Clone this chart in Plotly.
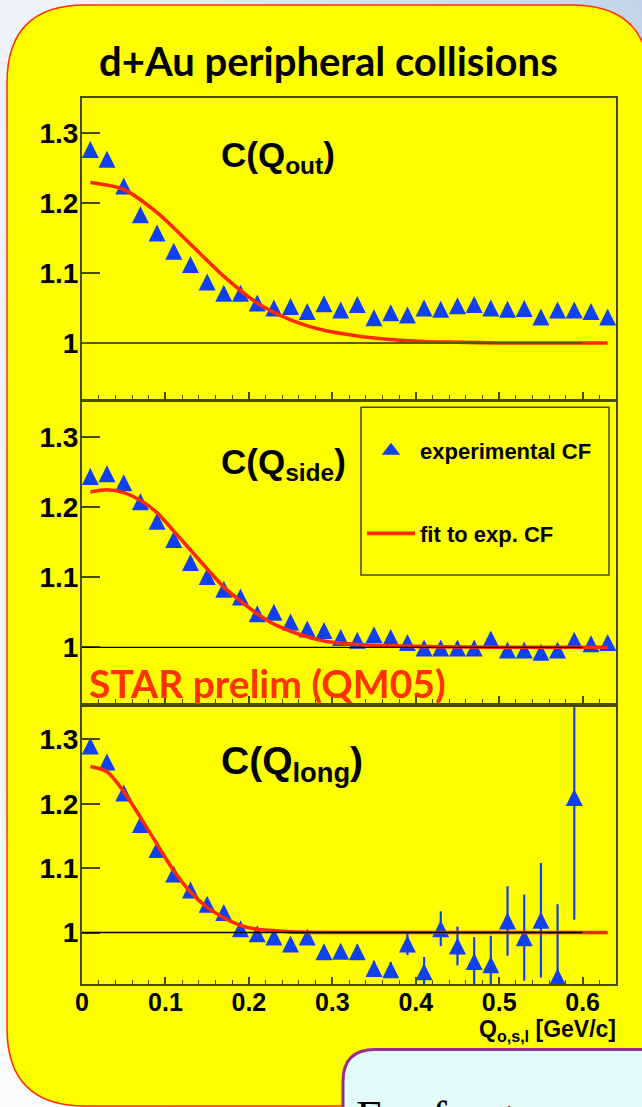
import base64
import plotly.graph_objects as go

W, H = 642, 1107

# ---- data ---------------------------------------------------------------
q_bins = [0.01, 0.03, 0.05, 0.07, 0.09, 0.11, 0.13, 0.15, 0.17, 0.19, 0.21,
          0.23, 0.25, 0.27, 0.29, 0.31, 0.33, 0.35, 0.37, 0.39, 0.41, 0.43,
          0.45, 0.47, 0.49, 0.51, 0.53, 0.55, 0.57, 0.59, 0.61, 0.63]

c_out = [1.276, 1.262, 1.224, 1.183, 1.157, 1.131, 1.112, 1.087, 1.071, 1.071,
         1.057, 1.050, 1.052, 1.045, 1.056, 1.047, 1.055, 1.036, 1.043, 1.040,
         1.050, 1.048, 1.053, 1.055, 1.050, 1.048, 1.049, 1.037, 1.047, 1.047,
         1.045, 1.037]

c_side = [1.244, 1.248, 1.235, 1.208, 1.180, 1.154, 1.121, 1.101, 1.083, 1.072,
          1.048, 1.050, 1.036, 1.026, 1.024, 1.014, 1.010, 1.018, 1.014, 1.007,
          0.999, 0.999, 0.999, 0.999, 1.012, 0.996, 0.996, 0.993, 0.996, 1.010,
          1.005, 1.007]

q_long = q_bins[:30]
c_long = [1.290, 1.265, 1.217, 1.168, 1.129, 1.091, 1.066, 1.044, 1.031, 1.006,
          0.998, 0.993, 0.982, 0.993, 0.970, 0.971, 0.970, 0.944, 0.942, 0.982,
          0.939, 1.006, 0.979, 0.955, 0.950, 1.018, 0.992, 1.019, 0.931, 1.210]
c_long_err = [0.004, 0.004, 0.004, 0.005, 0.005, 0.005, 0.006, 0.006, 0.007,
              0.007, 0.008, 0.008, 0.009, 0.009, 0.010, 0.010, 0.011, 0.012,
              0.012, 0.017, 0.023, 0.027, 0.030, 0.038, 0.045, 0.054, 0.067,
              0.089, 0.113, 0.190]

# fitted correlation functions
fit_out_q = [0.01, 0.05, 0.09, 0.13, 0.17, 0.21, 0.25, 0.29, 0.33, 0.37, 0.41,
             0.45, 0.50, 0.55, 0.60, 0.63]
fit_out = [1.229, 1.219, 1.186, 1.141, 1.095, 1.057, 1.033, 1.018, 1.010,
           1.005, 1.002, 1.001, 1.000, 1.000, 1.000, 1.000]

fit_side_q = [0.01, 0.03, 0.05, 0.07, 0.09, 0.11, 0.13, 0.15, 0.17, 0.19, 0.21,
              0.23, 0.25, 0.27, 0.29, 0.31, 0.33, 0.37, 0.41, 0.50, 0.63]
fit_side = [1.222, 1.225, 1.221, 1.210, 1.192, 1.166, 1.139, 1.112, 1.086,
            1.066, 1.048, 1.033, 1.023, 1.015, 1.009, 1.006, 1.004, 1.002,
            1.001, 1.000, 1.000]

fit_long_q = [0.01, 0.03, 0.05, 0.07, 0.09, 0.11, 0.13, 0.15, 0.17, 0.19, 0.21,
              0.23, 0.25, 0.30, 0.40, 0.50, 0.63]
fit_long = [1.258, 1.250, 1.219, 1.179, 1.137, 1.096, 1.063, 1.039, 1.023,
            1.011, 1.005, 1.003, 1.001, 1.000, 1.000, 1.000, 1.000]

x_tick_vals = [0, 0.1, 0.2, 0.3, 0.4, 0.5, 0.6]
x_tick_text = ["0", "0.1", "0.2", "0.3", "0.4", "0.5", "0.6"]
y_tick_vals = [1.0, 1.1, 1.2, 1.3]
y_tick_text = ["1", "1.1", "1.2", "1.3"]

X_RANGE = [0, 0.64]
Y_RANGE = [0.92, 1.35]
REF_LEVEL = 1.0
REF_XMAX = 0.6

# ---- styling ------------------------------------------------------------
HELV = "Liberation Sans"
SANS = "Lato"
BLUE = "#1040f2"
RED = "#ff2a00"
FRAME = "#4a4a00"
YELLOW = "#ffff00"
MARKER_SIZE = 17


def px_x(p):
    return p / W


def px_y(p):
    return 1 - p / H


X_DOMAIN = [px_x(82), px_x(616)]
PANELS = [(97.7, 399.0), (402.3, 703.3), (707.3, 984.0)]

fig = go.Figure()

series = [
    (q_bins, c_out, None, fit_out_q, fit_out),
    (q_bins, c_side, None, fit_side_q, fit_side),
    (q_long, c_long, c_long_err, fit_long_q, fit_long),
]

# upward triangle as tall as it is wide, centred on each point
tri_marker = dict(symbol="arrow-down", angle=180, standoff=MARKER_SIZE / 2,
                  size=MARKER_SIZE, color=BLUE, line=dict(width=0))

for i, (qx, cy, err, fq, fy) in enumerate(series):
    sfx = "" if i == 0 else str(i + 1)
    fig.add_trace(go.Scatter(
        x=qx, y=cy, mode="markers", name="experimental CF",
        xaxis="x" + sfx, yaxis="y" + sfx,
        marker=tri_marker,
        error_y=(dict(type="data", array=err, visible=True, color=BLUE,
                      thickness=2.2, width=0) if err else None),
        showlegend=False, legendgroup="exp",
    ))
    fig.add_trace(go.Scatter(
        x=fq, y=fy, mode="lines", name="fit to exp. CF",
        xaxis="x" + sfx, yaxis="y" + sfx,
        line=dict(color=RED, width=3.6, shape="spline", smoothing=0.8),
        showlegend=(i == 1), legendgroup="fit", legendrank=2,
    ))

# legend key for the measured points
fig.add_trace(go.Scatter(
    x=[None], y=[None], mode="markers", name="experimental CF",
    xaxis="x2", yaxis="y2",
    marker=dict(symbol="triangle-up", size=16, color=BLUE, line=dict(width=0)),
    showlegend=True, legendgroup="exp", legendrank=1,
))

layout = dict(
    width=W, height=H,
    margin=dict(l=0, r=0, t=0, b=0, autoexpand=False),
    paper_bgcolor="#f4f6f9",
    plot_bgcolor="rgba(0,0,0,0)",
    showlegend=True,
    legend=dict(x=px_x(362), y=px_y(430), xanchor="left", yanchor="top",
                bgcolor="rgba(0,0,0,0)", borderwidth=0,
                font=dict(family=HELV, size=22, color="black", weight="bold"),
                itemwidth=48, tracegroupgap=51, traceorder="grouped"),
)

for i, (top, bot) in enumerate(PANELS):
    sfx = "" if i == 0 else str(i + 1)
    last = (i == 2)
    layout["xaxis" + sfx] = dict(
        domain=X_DOMAIN, anchor="y" + sfx, range=X_RANGE, automargin=False,
        showline=True, linecolor=FRAME, linewidth=2, mirror=True,
        showgrid=False, zeroline=False,
        tickmode="array", tickvals=x_tick_vals, ticktext=x_tick_text,
        ticks="inside", ticklen=7, tickwidth=1.5, tickcolor=FRAME,
        minor=dict(ticks="inside", ticklen=4, tickwidth=1.2, tickcolor=FRAME,
                   dtick=0.02, tick0=0, showgrid=False),
        showticklabels=last, ticklabelstandoff=-5,
        tickfont=dict(family=HELV, size=25, color="black", weight="bold"),
    )
    layout["yaxis" + sfx] = dict(
        domain=[px_y(bot), px_y(top)], anchor="x" + sfx, range=Y_RANGE,
        automargin=False,
        showline=True, linecolor=FRAME, linewidth=2, mirror=True,
        showgrid=False, zeroline=False,
        tickmode="array", tickvals=y_tick_vals, ticktext=y_tick_text,
        ticks="inside", ticklen=18, tickwidth=1.5, tickcolor=FRAME,
        ticklabelstandoff=-4,
        tickfont=dict(family=HELV, size=28, color="black", weight="bold"),
    )

fig.update_layout(**layout)

# ---- background: page gradient, rounded yellow panel, note box ------------
grad_svg = (
    "<svg xmlns='http://www.w3.org/2000/svg' width='642' height='1107'>"
    "<defs><linearGradient id='g' x1='0' y1='1' x2='1' y2='0'>"
    "<stop offset='0' stop-color='#fbfcfd'/>"
    "<stop offset='0.55' stop-color='#eef2f7'/>"
    "<stop offset='1' stop-color='#c3d4ea'/>"
    "</linearGradient></defs>"
    "<rect width='642' height='1107' fill='url(#g)'/></svg>"
)
fig.add_layout_image(dict(
    source="data:image/svg+xml;base64," + base64.b64encode(grad_svg.encode()).decode(),
    xref="paper", yref="paper", x=0, y=1, sizex=1, sizey=1,
    sizing="stretch", layer="below",
))


def rounded_path(left, top, right, bottom, r):
    pts = [
        ("M", [(left, top + r)]),
        ("Q", [(left, top), (left + r, top)]),
        ("L", [(right - r, top)]),
        ("Q", [(right, top), (right, top + r)]),
        ("L", [(right, bottom - r)]),
        ("Q", [(right, bottom), (right - r, bottom)]),
        ("L", [(left + r, bottom)]),
        ("Q", [(left, bottom), (left, bottom - r)]),
    ]
    out = []
    for cmd, coords in pts:
        out.append(cmd + " " + " ".join(f"{px_x(a):.5f},{px_y(b):.5f}" for a, b in coords))
    return " ".join(out) + " Z"


fig.add_shape(type="path", xref="paper", yref="paper",
              path=rounded_path(7, 5, 650, 1106, 78),
              fillcolor=YELLOW, line=dict(color="#ff3000", width=1.5),
              layer="below")

fig.add_shape(type="path", xref="paper", yref="paper",
              path=rounded_path(343, 1049.5, 700, 1200, 32),
              fillcolor="#e3fbf9", line=dict(color="#952f95", width=3),
              layer="above")

# legend frame
fig.add_shape(type="rect", xref="paper", yref="paper",
              x0=px_x(361), x1=px_x(609), y0=px_y(575), y1=px_y(407.3),
              line=dict(color=FRAME, width=1.5), fillcolor="rgba(0,0,0,0)",
              layer="below")

# reference line C = 1
for i in range(3):
    sfx = "" if i == 0 else str(i + 1)
    fig.add_shape(type="line", xref="x" + sfx, yref="y" + sfx,
                  x0=0, x1=REF_XMAX, y0=REF_LEVEL, y1=REF_LEVEL,
                  line=dict(color="#5a5a00" if i == 0 else "black",
                            width=2 if i == 0 else 1.3),
                  layer="above")

# ---- texts --------------------------------------------------------------
fig.add_annotation(text="d+Au peripheral collisions", xref="paper", yref="paper",
                   x=px_x(328.5), y=px_y(61), xanchor="center", yanchor="middle",
                   showarrow=False,
                   font=dict(family=SANS, size=40, color="black", weight="bold"))

labels = [("C(Q<sub>out</sub>)", 157, 35),
          ("C(Q<sub>side</sub>)", 464, 35),
          ("C(Q<sub>long</sub>)", 763, 39)]
for text, yc, fs in labels:
    fig.add_annotation(text=text, xref="paper", yref="paper",
                       x=px_x(219), y=px_y(yc), xanchor="left", yanchor="middle",
                       showarrow=False,
                       font=dict(family=HELV, size=fs, color="black", weight="bold"))

fig.add_annotation(text="STAR prelim (QM05)", xref="paper", yref="paper",
                   x=px_x(87), y=px_y(683), xanchor="left", yanchor="middle",
                   showarrow=False,
                   font=dict(family=SANS, size=39, color="#ff3300", weight="bold"))

fig.add_annotation(text="Q<sub>o,s,l</sub> [GeV/c]", xref="paper", yref="paper",
                   x=px_x(617), y=px_y(1030), xanchor="right", yanchor="middle",
                   showarrow=False, borderpad=0,
                   font=dict(family=HELV, size=23, color="black", weight="bold"))

fig.add_annotation(text="For femtoscopy", xref="paper", yref="paper",
                   x=px_x(354), y=px_y(1090), xanchor="left", yanchor="top",
                   showarrow=False,
                   font=dict(family="Liberation Serif", size=46, color="black"))

fig.write_html("out.html")
